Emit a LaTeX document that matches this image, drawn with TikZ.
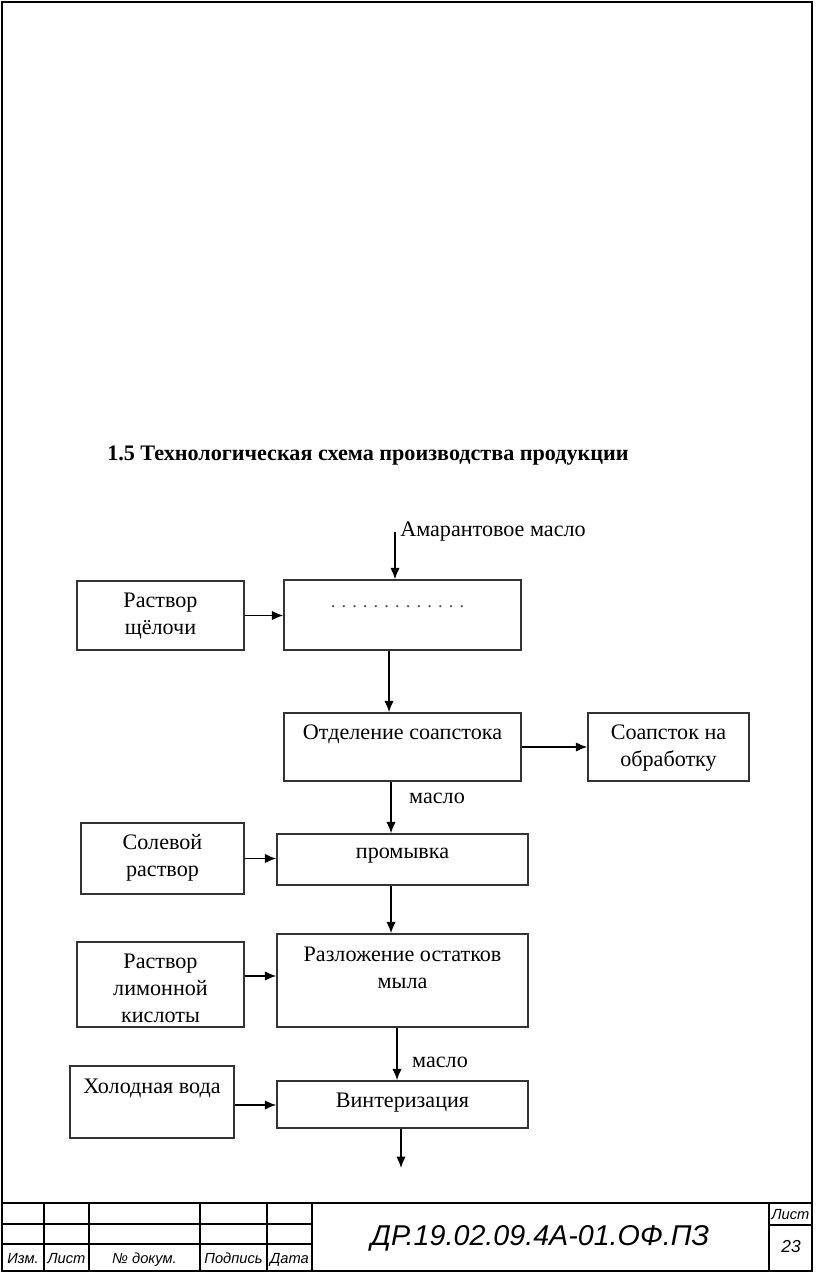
\documentclass[tikz,border=0pt]{standalone}
\usepackage{fontspec}
\setmainfont{Liberation Serif}
\newfontfamily\tbfont{Liberation Sans}
\usetikzlibrary{arrows.meta,fit}
\begin{document}
\begin{tikzpicture}[x=0.75pt,y=-0.75pt,
  box/.style={draw=black!80, line width=1.1pt, inner sep=0pt},
  lbl/.style={inner sep=0pt, align=center, font=\fontsize{16.6}{20.5}\selectfont},
  arr/.style={line width=1.1pt, -{Latex[length=8.5pt,width=7pt]}},
  tb/.style={inner sep=0pt, anchor=base, font=\tbfont\itshape\fontsize{11}{13}\selectfont},
  frameline/.style={line width=2pt},
  thinline/.style={line width=1pt}]
\useasboundingbox (0,0) rectangle (816,1275);

% page frame
\draw[frameline] (2,2) rectangle (812,1271);

% title
\node[anchor=west, inner sep=0pt, font=\bfseries\fontsize{16.6}{20}\selectfont] (title) at (107,456) {1.5 Технологическая схема производства продукции};

% boxes
\node[box, fit={(77,581)(244,650)}] (alk) {};
\node[box, fit={(284,580)(521,650)}] (neut) {};
\node[box, fit={(284,713)(521,781)}] (sep) {};
\node[box, fit={(588,713)(749,781)}] (soap) {};
\node[box, fit={(81,823)(244,894)}] (salt) {};
\node[box, fit={(277,834)(528,885)}] (wash) {};
\node[box, fit={(77,942)(244,1027)}] (cit) {};
\node[box, fit={(277,934)(528,1027)}] (dec) {};
\node[box, fit={(70,1066)(234,1138)}] (cold) {};
\node[box, fit={(277,1081)(528,1128)}] (wint) {};

% box texts
\node[lbl] (talk) at (160.5,616) {Раствор\\щёлочи};
\node[inner sep=0pt, text=black!70, font=\fontsize{13.8}{16}\selectfont] (tdots) at (397.5,607) {. . . . . . . . . . . . .};
\node[lbl] (tsep) at (402.5,734) {Отделение соапстока};
\node[lbl] (tsoap) at (668.5,748) {Соапсток на\\обработку};
\node[lbl] (tsalt) at (162.5,857.5) {Солевой\\раствор};
\node[lbl] (twash) at (402.5,856) {промывка};
\node[lbl] (tcit) at (160.5,988.5) {Раствор\\лимонной\\кислоты};
\node[lbl] (tdec) at (402.5,968) {Разложение остатков\\мыла};
\node[lbl] (tcold) at (152,1088) {Холодная вода};
\node[lbl] (twint) at (402.5,1103) {Винтеризация};

% flow labels
\node[lbl, anchor=west] (toil) at (400,532) {Амарантовое масло};
\node[lbl] (m1) at (437,798) {масло};
\node[lbl] (m2) at (440,1062) {масло};

% connectors
\coordinate (oilin) at (395,532);
\draw[arr] (oilin) -- (oilin |- neut.north);
\draw[arr] (alk.east) -- (alk.east -| neut.west);
\draw[arr] ([xshift=-10.1pt]neut.south) -- ([xshift=-10.1pt]neut.south |- sep.north);
\draw[arr] (sep.east) -- (sep.east -| soap.west);
\draw[arr] ([xshift=-8.6pt]sep.south) -- ([xshift=-8.6pt]sep.south |- wash.north);
\draw[arr] (salt.east) -- (salt.east -| wash.west);
\draw[arr] ([xshift=-8.6pt]wash.south) -- ([xshift=-8.6pt]wash.south |- dec.north);
\draw[arr] ([yshift=6.4pt]cit.east) -- ([yshift=6.4pt]cit.east -| dec.west);
\draw[arr] ([xshift=-4.1pt]dec.south) -- ([xshift=-4.1pt]dec.south |- wint.north);
\draw[arr] ([yshift=-2.25pt]cold.east) -- ([yshift=-2.25pt]cold.east -| wint.west);
\coordinate (out) at (401,1168);
\draw[arr] (wint.south -| out) -- (out);

% title block
\draw[frameline] (2,1203) -- (812,1203);
\foreach \xx in {44,89,200,267,312} \draw[line width=1.6pt] (\xx,1203) -- (\xx,1271);
\draw[thinline] (2,1224) -- (312,1224);
\draw[line width=1.5pt] (2,1244) -- (312,1244);
\draw[frameline] (769,1203) -- (769,1271);
\draw[thinline] (769,1225) -- (812,1225);

\node[tb] (izm) at (23,1263) {Изм.};
\node[tb] (list) at (66.5,1263) {Лист};
\node[tb] (ndoc) at (144.5,1263) {№ докум.};
\node[tb] (podp) at (233.5,1263) {Подпись};
\node[tb] (data) at (289.5,1263) {Дата};
\node[tb] (list2) at (790.5,1219) {Лист};
\node[inner sep=0pt, font=\tbfont\itshape\fontsize{13}{15}\selectfont] (sheet) at (791,1247) {23};
\node[inner sep=0pt, font=\tbfont\itshape\fontsize{21.5}{24}\selectfont] (code) at (540,1238) {ДР.19.02.09.4А-01.ОФ.ПЗ};
\end{tikzpicture}
\end{document}
